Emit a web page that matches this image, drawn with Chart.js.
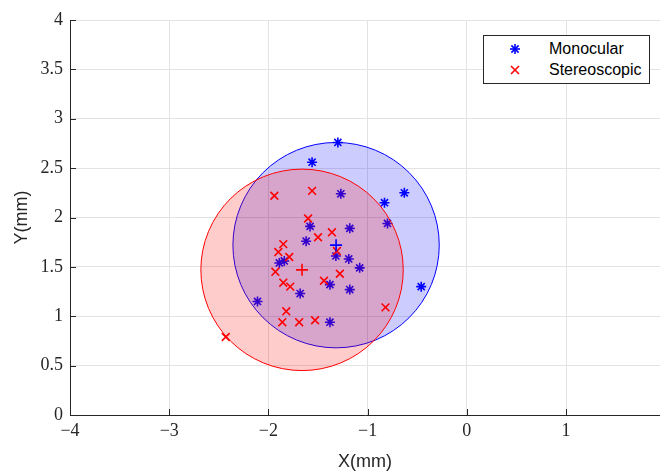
<!DOCTYPE html>
<html>
<head>
<meta charset="utf-8">
<script src="https://cdn.jsdelivr.net/npm/chart.js@4"></script>
<style>
  html, body { margin: 0; padding: 0; background: #fff; }
  #wrap { position: relative; width: 660px; height: 474px; overflow: hidden; }
  #legend {
    position: absolute; left: 483px; top: 35px; width: 165px; height: 47px;
    border: 1px solid #262626; background: #fff;
    font-family: "Liberation Sans", Arial, sans-serif; font-size: 16px; color: #000;
  }
  #legend .row { position: absolute; left: 0; height: 20px; line-height: 20px; }
  #legend svg { position: absolute; left: 24px; top: 3px; }
  #legend span { position: absolute; left: 65px; white-space: nowrap; }
</style>
</head>
<body>
<div id="wrap">
  <canvas id="c" width="660" height="474"></canvas>
  <div id="legend">
    <div class="row" style="top:3px">
      <svg width="14" height="14" viewBox="-7 -7 14 14">
        <g stroke="#0000ff" stroke-width="1.6">
          <line x1="0" y1="-5" x2="0" y2="5"/><line x1="-5" y1="0" x2="5" y2="0"/>
          <line x1="-3.6" y1="-3.6" x2="3.6" y2="3.6"/><line x1="-3.6" y1="3.6" x2="3.6" y2="-3.6"/>
        </g>
      </svg>
      <span>Monocular</span>
    </div>
    <div class="row" style="top:24px">
      <svg width="14" height="14" viewBox="-7 -7 14 14">
        <g stroke="#ff0000" stroke-width="1.6">
          <line x1="-4" y1="-4" x2="4" y2="4"/><line x1="-4" y1="4" x2="4" y2="-4"/>
        </g>
      </svg>
      <span>Stereoscopic</span>
    </div>
  </div>
</div>
<script>
// Monocular measurements (mm)
const monoX = [-1.30, -1.56, -1.27, -0.63, -0.83, -0.80, -1.58, -1.18, -1.62, -1.32,
               -1.19, -1.08, -1.89, -1.84, -1.38, -1.18, -1.68, -2.11, -1.38, -0.46];
const monoY = [2.76, 2.56, 2.24, 2.25, 2.15, 1.94, 1.91, 1.89, 1.76, 1.61,
               1.58, 1.49, 1.54, 1.56, 1.32, 1.27, 1.23, 1.15, 0.94, 1.30];

// Stereoscopic measurements (mm)
const stereoX = [-1.94, -1.56, -1.60, -1.36, -1.50, -1.85, -1.90, -1.79, -1.31, -1.93,
                 -1.28, -1.44, -1.85, -1.78, -1.82, -1.86, -1.69, -1.53, -0.82, -2.43];
const stereoY = [2.22, 2.27, 1.99, 1.85, 1.80, 1.73, 1.65, 1.60, 1.66, 1.45,
                 1.43, 1.36, 1.34, 1.30, 1.05, 0.94, 0.94, 0.96, 1.09, 0.79];

// mean position and spread circle for each group
const centerX = [-1.318, -1.661];
const centerY = [1.72, 1.47];
const radius = [1.04, 1.02];

const xTicks = [-4, -3, -2, -1, 0, 1];
const yTicks = [0, 0.5, 1, 1.5, 2, 2.5, 3, 3.5, 4];

const C = {
  blue: "#0000ff",
  red: "#ff0000",
  blueFill: "rgba(0,0,255,0.2)",
  redFill: "rgba(255,0,0,0.2)",
  grid: "#e3e3e3",
  axis: "#262626",
};

const toPts = (xs, ys) => xs.map((x, i) => ({ x, y: ys[i] }));

// spread circles drawn under each group's markers, in data units
const circlePlugin = {
  id: "circles",
  beforeDatasetDraw(chart, args) {
    const i = args.index;
    if (i > 1) return;
    const { ctx, scales: { x, y } } = chart;
    const cx = x.getPixelForValue(centerX[i]);
    const cy = y.getPixelForValue(centerY[i]);
    const rx = x.getPixelForValue(centerX[i] + radius[i]) - cx;
    const ry = cy - y.getPixelForValue(centerY[i] + radius[i]);
    ctx.save();
    ctx.beginPath();
    ctx.ellipse(cx, cy, rx, ry, 0, 0, Math.PI * 2);
    ctx.fillStyle = i === 0 ? C.blueFill : C.redFill;
    ctx.fill();
    ctx.lineWidth = 1;
    ctx.strokeStyle = i === 0 ? C.blue : C.red;
    ctx.stroke();
    ctx.restore();
  },
};

// MATLAB style tick marks pointing into the axes
const innerTicks = {
  id: "innerTicks",
  afterDraw(chart) {
    const { ctx, chartArea: a, scales: { x, y } } = chart;
    ctx.save();
    ctx.strokeStyle = C.axis;
    ctx.lineWidth = 1;
    ctx.beginPath();
    xTicks.forEach((v) => {
      const px = Math.round(x.getPixelForValue(v)) + 0.5;
      ctx.moveTo(px, a.bottom);
      ctx.lineTo(px, a.bottom - 6);
    });
    yTicks.forEach((v) => {
      const py = Math.round(y.getPixelForValue(v)) + 0.5;
      ctx.moveTo(a.left, py);
      ctx.lineTo(a.left + 6, py);
    });
    ctx.stroke();
    ctx.restore();
  },
};

new Chart(document.getElementById("c"), {
  type: "scatter",
  data: {
    datasets: [
      {
        label: "Monocular",
        data: toPts(monoX, monoY),
        pointStyle: "star",
        radius: 5,
        borderWidth: 1.6,
        borderColor: C.blue,
        backgroundColor: C.blue,
        order: 4,
      },
      {
        label: "Stereoscopic",
        data: toPts(stereoX, stereoY),
        pointStyle: "crossRot",
        radius: 5.5,
        borderWidth: 1.6,
        borderColor: C.red,
        backgroundColor: C.red,
        order: 3,
      },
      {
        label: "Monocular mean",
        data: [{ x: centerX[0], y: centerY[0] }],
        pointStyle: "cross",
        radius: 6,
        borderWidth: 1.6,
        borderColor: C.blue,
        order: 2,
      },
      {
        label: "Stereoscopic mean",
        data: [{ x: centerX[1], y: centerY[1] }],
        pointStyle: "cross",
        radius: 6,
        borderWidth: 1.6,
        borderColor: C.red,
        order: 1,
      },
    ],
  },
  options: {
    responsive: false,
    animation: false,
    layout: { autoPadding: false, padding: { top: 20, right: 0, left: 0, bottom: 0 } },
    plugins: { legend: { display: false }, tooltip: { enabled: false } },
    scales: {
      x: {
        type: "linear",
        min: -4,
        max: 1.947,
        afterFit: (s) => { s.height = 59; s.paddingLeft = 0; s.paddingRight = 0; },
        afterBuildTicks: (s) => { s.ticks = xTicks.map((v) => ({ value: v })); },
        ticks: {
          includeBounds: false,
          padding: 5,
          color: "#262626",
          font: { family: "'Liberation Serif', serif", size: 18 },
          callback: (v) => (v < 0 ? "\u2212" + Math.abs(v) : String(v)),
        },
        grid: { color: C.grid, drawTicks: false },
        border: { color: C.axis, width: 1 },
        title: {
          display: true,
          text: "X(mm)",
          color: "#262626",
          font: { family: "'Liberation Sans', Arial, sans-serif", size: 18 },
          padding: { top: 0, bottom: 1 },
        },
      },
      y: {
        type: "linear",
        min: 0,
        max: 4,
        afterFit: (s) => { s.width = 70; s.paddingTop = 0; s.paddingBottom = 0; },
        afterBuildTicks: (s) => { s.ticks = yTicks.map((v) => ({ value: v })); },
        ticks: {
          padding: 7,
          color: "#262626",
          font: { family: "'Liberation Serif', serif", size: 18 },
          callback: (v) => String(v),
        },
        grid: { color: C.grid, drawTicks: false },
        border: { color: C.axis, width: 1 },
        title: {
          display: true,
          text: "Y(mm)",
          color: "#262626",
          font: { family: "'Liberation Sans', Arial, sans-serif", size: 18 },
          padding: { top: 11, bottom: 0 },
        },
      },
    },
  },
  plugins: [circlePlugin, innerTicks],
});
</script>
</body>
</html>
